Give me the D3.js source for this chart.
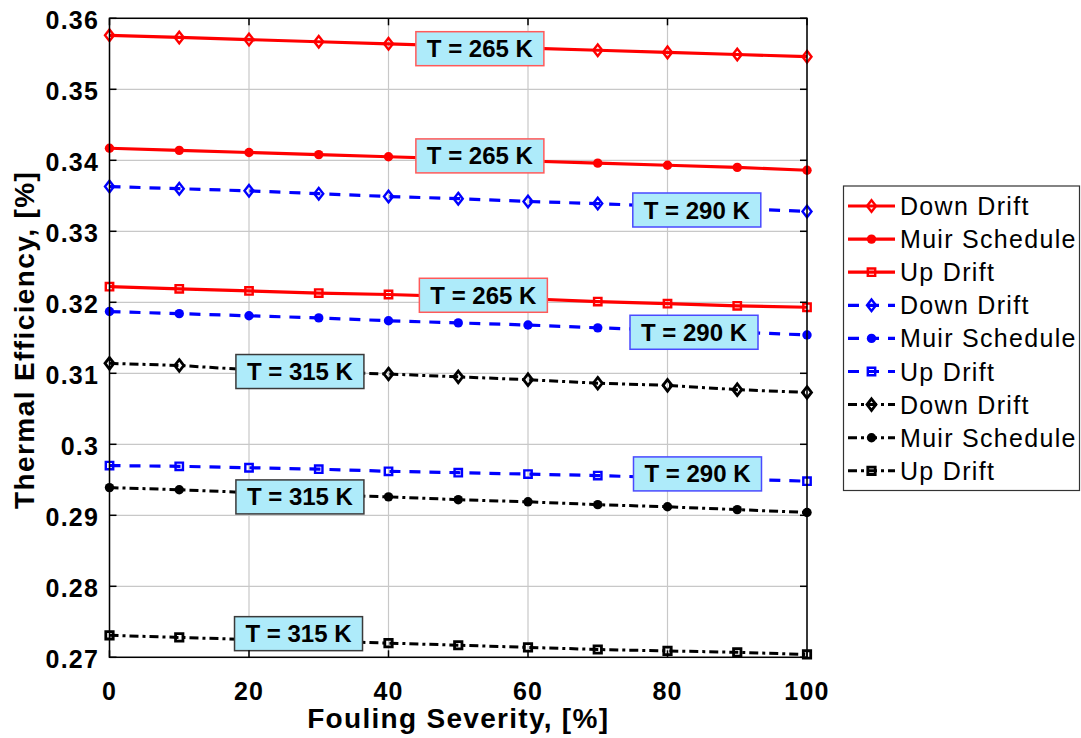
<!DOCTYPE html>
<html>
<head>
<meta charset="utf-8">
<script src="https://cdn.jsdelivr.net/npm/d3@7/dist/d3.min.js"></script>
<style>
    body { margin: 0; background: #ffffff; }
    text { font-family: "Liberation Sans", Arial, sans-serif; }
</style>
</head>
<body>
<svg class="svg"></svg>
<script>

// fouling severity, [%]
const fouling = [0, 10, 20, 30, 40, 50, 60, 70, 80, 90, 100];

// thermal efficiency, one array per curve
const downDrift265 = [0.3576, 0.3573, 0.3570, 0.3567, 0.3564, 0.3561, 0.3558, 0.3555, 0.3552, 0.3549, 0.3546];
const muir265 = [0.3417, 0.3414, 0.3411, 0.3408, 0.3405, 0.3402, 0.3399, 0.3396, 0.3393, 0.3390, 0.3386];
const upDrift265 = [0.3222, 0.3219, 0.3216, 0.3213, 0.3211, 0.3208, 0.3205, 0.3201, 0.3198, 0.3195, 0.3193];
const downDrift290 = [0.3363, 0.3360, 0.3357, 0.3353, 0.3349, 0.3346, 0.3342, 0.3339, 0.3335, 0.3332, 0.3328];
const muir290 = [0.3187, 0.3184, 0.3181, 0.3178, 0.3174, 0.3171, 0.3168, 0.3164, 0.3161, 0.3158, 0.3154];
const upDrift290 = [0.2970, 0.2969, 0.2967, 0.2965, 0.2962, 0.2960, 0.2958, 0.2956, 0.2953, 0.2951, 0.2948];
const downDrift315 = [0.3114, 0.3111, 0.3105, 0.3102, 0.3099, 0.3095, 0.3091, 0.3086, 0.3083, 0.3077, 0.3073];
const muir315 = [0.2939, 0.2936, 0.2932, 0.2929, 0.2926, 0.2922, 0.2919, 0.2915, 0.2912, 0.2908, 0.2904];
const upDrift315 = [0.2731, 0.2728, 0.2725, 0.2723, 0.2720, 0.2717, 0.2714, 0.2711, 0.2709, 0.2707, 0.2704];

const seriesValues = [downDrift265, muir265, upDrift265, downDrift290, muir290, upDrift290, downDrift315, muir315, upDrift315];
const seriesNames = ["Down Drift", "Muir Schedule", "Up Drift", "Down Drift", "Muir Schedule", "Up Drift", "Down Drift", "Muir Schedule", "Up Drift"];
const seriesTemp = [265, 265, 265, 290, 290, 290, 315, 315, 315];
const seriesMarker = ["diamond", "circle", "square", "diamond", "circle", "square", "diamond", "circle", "square"];

// temperature tags, placed in data units (fouling %, efficiency)
const tagText = ["T = 265 K", "T = 265 K", "T = 265 K", "T = 290 K", "T = 290 K", "T = 290 K", "T = 315 K", "T = 315 K", "T = 315 K"];
const tagX = [53.1, 53.1, 53.6, 84.2, 83.8, 84.3, 27.3, 27.3, 27.1];
const tagY = [0.35572, 0.34062, 0.32099, 0.3330, 0.31578, 0.29583, 0.31025, 0.29259, 0.27333];

const xTicks = [0, 20, 40, 60, 80, 100];
const yTicks = [0.27, 0.28, 0.29, 0.3, 0.31, 0.32, 0.33, 0.34, 0.35, 0.36];

const svgWidth = 1081;
const svgHeight = 738;

const svg = d3.select(".svg")
    .attr("width", svgWidth)
    .attr("height", svgHeight)

const plot = { left: 109.5, top: 18.3, right: 807, bottom: 657.3 };

const xScale = d3.scaleLinear()
    .domain([0, 100])
    .range([plot.left, plot.right]);

const yScale = d3.scaleLinear()
    .domain([0.27, 0.36])
    .range([plot.bottom, plot.top]);

// per temperature style: colour, dash, line width
const tempStyle = {
    265: { color: "#ff0000", dash: null, width: 3.2, mark: 2.4, border: "#ff5a5a" },
    290: { color: "#0000ff", dash: "11,9", width: 3.2, mark: 2.4, border: "#4a4aff" },
    315: { color: "#000000", dash: "9,4,3,4", width: 3, mark: 2.8, border: "#3a3a3a" }
};

// grid
svg.append("g")
    .selectAll("line")
    .data(xTicks)
    .enter()
    .append("line")
    .attr("x1", function (d) { return xScale(d); })
    .attr("x2", function (d) { return xScale(d); })
    .attr("y1", plot.top)
    .attr("y2", plot.bottom)
    .style("stroke", "#c8c8c8")
    .style("stroke-width", 1.2);

svg.append("g")
    .selectAll("line")
    .data(yTicks)
    .enter()
    .append("line")
    .attr("x1", plot.left)
    .attr("x2", plot.right)
    .attr("y1", function (d) { return yScale(d); })
    .attr("y2", function (d) { return yScale(d); })
    .style("stroke", "#c8c8c8")
    .style("stroke-width", 1.2);

const line = d3.line()
    .x(function (d, i) { return xScale(fouling[i]); })
    .y(function (d) { return yScale(d); });

function markerPath(type) {
    if (type === "diamond") return "M0,-5.8L4.5,0L0,5.8L-4.5,0Z";
    if (type === "square") return "M-3.7,-3.7H3.7V3.7H-3.7Z";
    return null;
}

function drawMarker(g, type, st, x, y) {
    if (type === "circle") {
        g.append("circle")
            .attr("cx", x)
            .attr("cy", y)
            .attr("r", 4.7)
            .attr("fill", st.color);
    } else {
        g.append("path")
            .attr("d", markerPath(type))
            .attr("transform", "translate(" + x + "," + y + ")")
            .attr("fill", "none")
            .attr("stroke", st.color)
            .attr("stroke-width", st.mark);
    }
}

// curves
seriesValues.forEach(function (values, s) {
    const st = tempStyle[seriesTemp[s]];
    const g = svg.append("g");
    g.append("path")
        .datum(values)
        .attr("d", line)
        .attr("fill", "none")
        .attr("stroke", st.color)
        .attr("stroke-width", st.width)
        .attr("stroke-dasharray", st.dash);
    values.forEach(function (v, i) {
        drawMarker(g, seriesMarker[s], st, xScale(fouling[i]), yScale(v));
    });
});

// temperature tags
tagText.forEach(function (t, i) {
    const st = tempStyle[seriesTemp[i]];
    const cx = xScale(tagX[i]);
    const cy = yScale(tagY[i]);
    svg.append("rect")
        .attr("x", cx - 64)
        .attr("y", cy - 17)
        .attr("width", 128)
        .attr("height", 34)
        .attr("fill", "#aeebfa")
        .attr("stroke", st.border)
        .attr("stroke-width", 1.5);
    svg.append("text")
        .attr("x", cx)
        .attr("y", cy + 8.5)
        .attr("text-anchor", "middle")
        .attr("font-size", "24px")
        .attr("font-weight", "bold")
        .attr("fill", "#000")
        .text(t);
});

// frame and inward ticks
svg.append("rect")
    .attr("x", plot.left)
    .attr("y", plot.top)
    .attr("width", plot.right - plot.left)
    .attr("height", plot.bottom - plot.top)
    .attr("fill", "none")
    .attr("stroke", "#000")
    .attr("stroke-width", 1.5);

const tickLen = 7;
xTicks.forEach(function (d) {
    svg.append("line")
        .attr("x1", xScale(d)).attr("x2", xScale(d))
        .attr("y1", plot.bottom).attr("y2", plot.bottom - tickLen)
        .style("stroke", "#000").style("stroke-width", 1.5);
    svg.append("line")
        .attr("x1", xScale(d)).attr("x2", xScale(d))
        .attr("y1", plot.top).attr("y2", plot.top + tickLen)
        .style("stroke", "#000").style("stroke-width", 1.5);
});
yTicks.forEach(function (d) {
    svg.append("line")
        .attr("x1", plot.left).attr("x2", plot.left + tickLen)
        .attr("y1", yScale(d)).attr("y2", yScale(d))
        .style("stroke", "#000").style("stroke-width", 1.5);
    svg.append("line")
        .attr("x1", plot.right).attr("x2", plot.right - tickLen)
        .attr("y1", yScale(d)).attr("y2", yScale(d))
        .style("stroke", "#000").style("stroke-width", 1.5);
});

// tick labels
svg.append("g")
    .selectAll("text")
    .data(xTicks)
    .enter()
    .append("text")
    .attr("x", function (d) { return xScale(d); })
    .attr("y", 700)
    .attr("text-anchor", "middle")
    .attr("font-size", "25px")
    .attr("font-weight", "bold")
    .attr("letter-spacing", "1.2px")
    .text(function (d) { return d; });

svg.append("g")
    .selectAll("text")
    .data(yTicks)
    .enter()
    .append("text")
    .attr("x", 99)
    .attr("y", function (d) { return yScale(d) + 11; })
    .attr("text-anchor", "end")
    .attr("font-size", "25px")
    .attr("font-weight", "bold")
    .attr("letter-spacing", "1.2px")
    .text(function (d) { return d3.format("")(+d.toFixed(2)); });

// axis titles
svg.append("text")
    .attr("x", (plot.left + plot.right) / 2)
    .attr("y", 728)
    .attr("text-anchor", "middle")
    .attr("font-size", "28px")
    .attr("font-weight", "bold")
    .attr("letter-spacing", "1.3px")
    .text("Fouling Severity, [%]");

svg.append("text")
    .attr("transform", "translate(34," + ((plot.top + plot.bottom) / 2 + 2) + ") rotate(-90)")
    .attr("text-anchor", "middle")
    .attr("font-size", "28px")
    .attr("font-weight", "bold")
    .attr("letter-spacing", "1.4px")
    .text("Thermal Efficiency, [%]");

// legend
const legend = svg.append("g");
legend.append("rect")
    .attr("x", 843.5)
    .attr("y", 186)
    .attr("width", 236)
    .attr("height", 304.5)
    .attr("fill", "#fff")
    .attr("stroke", "#333")
    .attr("stroke-width", 1.2);

seriesNames.forEach(function (name, i) {
    const st = tempStyle[seriesTemp[i]];
    const y = 206 + i * 33.1;
    legend.append("line")
        .attr("x1", 848).attr("x2", 895)
        .attr("y1", y).attr("y2", y)
        .attr("stroke", st.color)
        .attr("stroke-width", st.width)
        .attr("stroke-dasharray", st.dash);
    drawMarker(legend, seriesMarker[i], st, 871.5, y);
    legend.append("text")
        .attr("x", 900)
        .attr("y", y + 9)
        .attr("font-size", "25px")
        .attr("letter-spacing", "1.3px")
        .text(name);
});

</script>
</body>
</html>
